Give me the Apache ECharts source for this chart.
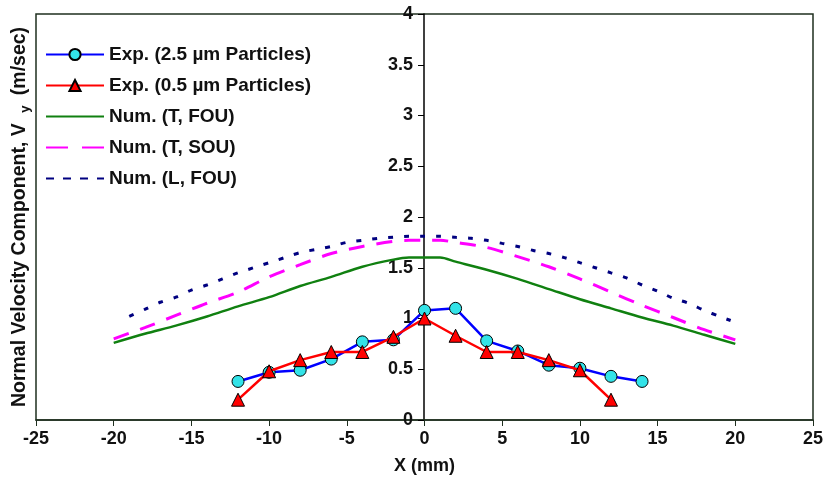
<!DOCTYPE html>
<html>
<head>
<meta charset="utf-8">
<script src="https://cdn.jsdelivr.net/npm/echarts@6/dist/echarts.min.js"></script>
<style>
  html, body { margin: 0; padding: 0; background: #fff; }
  #chart { width: 824px; height: 483px; }
</style>
</head>
<body>
<div id="chart"></div>
<script>
"use strict";

// experimental points (mm)
var expX = [-12, -10, -8, -6, -4, -2, 0, 2, 4, 6, 8, 10, 12, 14];
var exp25Y = [0.38, 0.47, 0.49, 0.6, 0.77, 0.79, 1.08, 1.1, 0.78, 0.68, 0.54, 0.51, 0.43, 0.38];
var exp05X = [-12, -10, -8, -6, -4, -2, 0, 2, 4, 6, 8, 10, 12];
var exp05Y = [0.2, 0.48, 0.59, 0.67, 0.67, 0.82, 1.0, 0.83, 0.67, 0.67, 0.59, 0.49, 0.2];

// numerical curves
var numX = [-20, -18, -16, -14, -12, -10, -8, -6, -4, -2, -1, 0, 1, 2, 4, 6, 8, 10, 12, 14, 16, 18, 20];
var tFouY = [0.76, 0.85, 0.93, 1.02, 1.12, 1.21, 1.32, 1.41, 1.51, 1.58, 1.6, 1.6, 1.6, 1.56, 1.48, 1.39, 1.29, 1.19, 1.1, 1.01, 0.93, 0.84, 0.75];
var tSouY = [0.8, 0.91, 1.03, 1.15, 1.26, 1.41, 1.53, 1.64, 1.71, 1.76, 1.77, 1.77, 1.77, 1.75, 1.7, 1.61, 1.51, 1.39, 1.26, 1.13, 1.01, 0.89, 0.79];
var lFouX = [-19, -18, -17, -16, -15, -14, -13, -12, -11, -10, -9, -8, -7, -6, -5, -4, -3, -2, -1, 0, 1, 2, 3, 4, 5, 6, 7, 8, 9, 10, 11, 12, 13, 14, 15, 16, 17, 18, 19, 19.7];
var lFouY = [1.02, 1.09, 1.16, 1.21, 1.28, 1.33, 1.39, 1.45, 1.5, 1.55, 1.6, 1.65, 1.68, 1.71, 1.75, 1.77, 1.79, 1.8, 1.81, 1.81, 1.81, 1.8, 1.79, 1.77, 1.74, 1.71, 1.67, 1.64, 1.6, 1.55, 1.5, 1.45, 1.4, 1.33, 1.27, 1.2, 1.15, 1.08, 1.02, 0.98];

var seriesNames = ["Exp. (2.5 \u00b5m Particles)", "Exp. (0.5 \u00b5m Particles)", "Num. (T, FOU)", "Num. (T, SOU)", "Num. (L, FOU)"];

function pairs(xs, ys) {
  return xs.map(function (x, i) { return [x, ys[i]]; });
}

var font = "Liberation Sans, Arial, sans-serif";
var chart = echarts.init(document.getElementById("chart"));

// legend entries: numerical curves show only their line
var legendData = [
  { name: seriesNames[0] },
  { name: seriesNames[1] },
  { name: seriesNames[2], itemStyle: { opacity: 0 } },
  { name: seriesNames[3], itemStyle: { opacity: 0 }, lineStyle: { type: [22, 14] } },
  { name: seriesNames[4], itemStyle: { opacity: 0 }, lineStyle: { type: [8, 9] } }
];

chart.setOption({
  animation: false,
  grid: {
    left: 36, right: 11, top: 14, bottom: 63,
    containLabel: false,
    outerBoundsMode: "none",
    show: true,
    borderColor: "#1f2f1f",
    borderWidth: 1.5
  },
  legend: {
    orient: "vertical",
    left: 40,
    top: 40,
    itemWidth: 58,
    itemHeight: 14,
    itemGap: 12,
    data: legendData,
    textStyle: { fontFamily: font, fontWeight: "bold", fontSize: 19, color: "#111" }
  },
  xAxis: {
    type: "value",
    min: -25, max: 25, interval: 5,
    name: "X (mm)",
    nameLocation: "middle",
    nameGap: 37,
    nameTextStyle: { fontFamily: font, fontWeight: "bold", fontSize: 18, color: "#111" },
    splitLine: { show: false },
    axisLine: { lineStyle: { color: "#1f2f1f", width: 1.5 } },
    axisTick: { length: 6, lineStyle: { color: "#1f2f1f" } },
    axisLabel: { margin: 10, fontFamily: font, fontWeight: "bold", fontSize: 18, color: "#111" }
  },
  yAxis: {
    type: "value",
    position: "left",
    offset: -388,
    min: 0, max: 4, interval: 0.5,
    splitLine: { show: false },
    axisLine: { show: true, onZero: false, lineStyle: { color: "#000", width: 1.5 } },
    axisTick: { show: true, length: 6, lineStyle: { color: "#000" } },
    axisLabel: { margin: 11, fontFamily: font, fontWeight: "bold", fontSize: 18, color: "#111" }
  },
  graphic: [
    {
      type: "text",
      x: 20, y: 217,
      rotation: Math.PI / 2,
      style: {
        text: "{a|Normal Velocity Component, V }{b|y}{a| (m/sec)}",
        align: "center",
        verticalAlign: "middle",
        rich: {
          a: { fontFamily: font, fontWeight: "bold", fontSize: 19.5, fill: "#111", lineHeight: 24 },
          b: { fontFamily: font, fontWeight: "bold", fontSize: 13, fill: "#111", padding: [10, 5, 0, 5], lineHeight: 24 }
        }
      }
    }
  ],
  series: [
    {
      name: seriesNames[0],
      type: "line",
      data: pairs(expX, exp25Y),
      symbol: "circle",
      symbolSize: 12,
      z: 5,
      lineStyle: { color: "#0000ff", width: 2.5 },
      itemStyle: { color: "#33e3e8", borderColor: "#000", borderWidth: 1 }
    },
    {
      name: seriesNames[1],
      type: "line",
      data: pairs(exp05X, exp05Y),
      symbol: "triangle",
      symbolSize: 13,
      z: 6,
      lineStyle: { color: "#ff0000", width: 2.5 },
      itemStyle: { color: "#ff0000", borderColor: "#000", borderWidth: 1 }
    },
    {
      name: seriesNames[2],
      type: "line",
      data: pairs(numX, tFouY),
      smooth: 0.3,
      showSymbol: false,
      symbol: "none",
      lineStyle: { color: "#108010", width: 2.5 },
      itemStyle: { color: "#108010" }
    },
    {
      name: seriesNames[3],
      type: "line",
      data: pairs(numX, tSouY),
      smooth: 0.3,
      showSymbol: false,
      symbol: "none",
      lineStyle: { color: "#ff00ff", width: 3, type: [16, 12] },
      itemStyle: { color: "#ff00ff" }
    },
    {
      name: seriesNames[4],
      type: "line",
      data: pairs(lFouX, lFouY),
      smooth: 0.3,
      showSymbol: false,
      symbol: "none",
      lineStyle: { color: "#000080", width: 3, type: [5, 11] },
      itemStyle: { color: "#000080" }
    }
  ]
});
</script>
</body>
</html>
